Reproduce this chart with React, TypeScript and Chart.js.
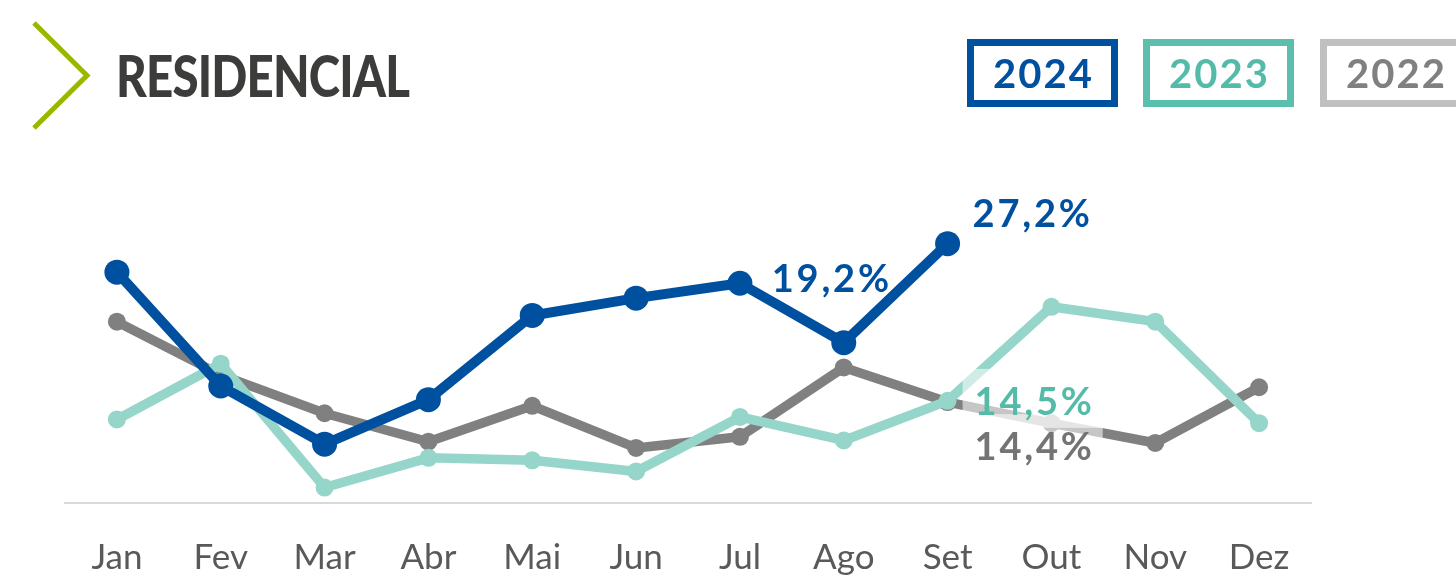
import React, { useEffect, useRef } from "react";
import { Chart, registerables } from "chart.js";

Chart.register(...registerables);

// ---- data ----
const months = ["Jan", "Fev", "Mar", "Abr", "Mai", "Jun", "Jul", "Ago", "Set", "Out", "Nov", "Dez"];
const values2024 = [24.9, 15.7, 11.0, 14.6, 21.4, 22.8, 24.0, 19.2, 27.2, null, null, null];
const values2023 = [13.0, 17.5, 7.5, 9.9, 9.7, 8.8, 13.2, 11.3, 14.5, 22.1, 20.9, 12.7];
const values2022 = [20.9, 16.6, 13.5, 11.2, 14.1, 10.7, 11.6, 17.2, 14.4, 12.7, 11.1, 15.6];
const seriesNames = ["2024", "2023", "2022"];
const yMin = 6.25;
const yMax = 30;

// ---- styles ----
const BLUE = "#0050a0";
const TEAL_LINE = "#96d5c9";
const TEAL_TEXT = "#55bba9";
const TEAL_BORDER = "#5bbfad";
const GRAY_LINE = "#808080";
const GRAY_TEXT = "#747474";
const GRAY_BORDER = "#c0c0c0";

const fmt = (v: number) => v.toFixed(1).replace(".", ",") + "%";

const labelPlugin = {
  id: "valueLabels",
  afterDatasetsDraw(chart: any) {
    const ctx = chart.ctx as CanvasRenderingContext2D;
    const specs = [
      { ds: 0, i: 7, dx: -72, dy: -51, color: BLUE, box: false },
      { ds: 0, i: 8, dx: 25, dy: -17, color: BLUE, box: false },
      { ds: 1, i: 8, dx: 27, dy: 14, color: TEAL_TEXT, box: true },
      { ds: 2, i: 8, dx: 27, dy: 58, color: GRAY_TEXT, box: true },
    ];
    ctx.save();
    ctx.font = "bold 38px Lato";
    (ctx as any).letterSpacing = "2.8px";
    const items = specs.map((s) => {
      const pt = chart.getDatasetMeta(s.ds).data[s.i];
      const v = chart.data.datasets[s.ds].data[s.i] as number;
      const text = fmt(v);
      return { ...s, text, x: pt.x + s.dx, y: pt.y + s.dy, w: ctx.measureText(text).width };
    });
    items
      .filter((it) => it.box)
      .forEach((it) => {
        ctx.fillStyle = "rgba(255,255,255,0.55)";
        ctx.fillRect(it.x - 12, it.y - 46, it.w + 20, 59);
      });
    items.forEach((it) => {
      ctx.fillStyle = it.color;
      ctx.textAlign = "left";
      ctx.textBaseline = "alphabetic";
      ctx.fillText(it.text, it.x, it.y);
    });
    ctx.restore();
  },
};

function LegendBox({ text, border, color, left }: { text: string; border: string; color: string; left: number }) {
  return (
    <div
      style={{
        position: "absolute",
        left,
        top: 39,
        width: 151,
        height: 68,
        boxSizing: "border-box",
        border: `7px solid ${border}`,
        display: "flex",
        alignItems: "center",
        justifyContent: "center",
        fontFamily: "Lato",
        fontWeight: 700,
        fontSize: 40,
        lineHeight: "40px",
        letterSpacing: "2px",
        color,
        paddingLeft: 2,
      }}
    >
      {text}
    </div>
  );
}

export default function App() {
  const canvasRef = useRef<HTMLCanvasElement | null>(null);
  const titleRef = useRef<HTMLSpanElement | null>(null);

  useEffect(() => {
    if (titleRef.current) {
      const w = titleRef.current.offsetWidth;
      if (w > 0) titleRef.current.style.transform = `scaleX(${293 / w})`;
    }
    const canvas = canvasRef.current;
    if (!canvas) return;
    const chart = new Chart(canvas, {
      type: "line",
      data: {
        labels: months,
        datasets: [
          {
            label: seriesNames[0],
            data: values2024,
            borderColor: BLUE,
            backgroundColor: BLUE,
            borderWidth: 10,
            pointRadius: 12.5,
            pointHoverRadius: 12.5,
            pointBorderWidth: 0,
            pointBackgroundColor: BLUE,
            borderJoinStyle: "round",
            borderCapStyle: "round",
            tension: 0,
            clip: false as any,
          },
          {
            label: seriesNames[1],
            data: values2023,
            borderColor: TEAL_LINE,
            backgroundColor: TEAL_LINE,
            borderWidth: 9.5,
            pointRadius: 9,
            pointHoverRadius: 9,
            pointBorderWidth: 0,
            pointBackgroundColor: TEAL_LINE,
            borderJoinStyle: "round",
            borderCapStyle: "round",
            tension: 0,
            clip: false as any,
          },
          {
            label: seriesNames[2],
            data: values2022,
            borderColor: GRAY_LINE,
            backgroundColor: GRAY_LINE,
            borderWidth: 9.5,
            pointRadius: 9,
            pointHoverRadius: 9,
            pointBorderWidth: 0,
            pointBackgroundColor: GRAY_LINE,
            borderJoinStyle: "round",
            borderCapStyle: "round",
            tension: 0,
            clip: false as any,
          },
        ],
      },
      options: {
        responsive: false,
        animation: false,
        devicePixelRatio: 1,
        layout: { padding: { left: 65, right: 145, top: 209, bottom: 0 } },
        plugins: { legend: { display: false }, tooltip: { enabled: false }, title: { display: false } },
        events: [],
        scales: {
          x: {
            type: "category",
            offset: true,
            grid: { display: false, drawTicks: false },
            border: { display: true, color: "#d9d9d9", width: 2 },
            ticks: {
              color: "#595959",
              font: { family: "Lato", size: 35 },
              padding: 34,
              maxRotation: 0,
              autoSkip: false,
            },
            afterFit: (scale: any) => {
              scale.height = 83;
            },
          },
          y: { display: false, min: yMin, max: yMax },
        },
      },
      plugins: [labelPlugin],
    });
    return () => chart.destroy();
  }, []);

  return (
    <div
      style={{
        position: "fixed",
        left: 0,
        top: 0,
        width: 1456,
        height: 586,
        overflow: "hidden",
        background: "#ffffff",
      }}
    >
      <canvas ref={canvasRef} width={1456} height={586} style={{ position: "absolute", left: 0, top: 0, width: 1456, height: 586 }} />
      <svg width={120} height={150} style={{ position: "absolute", left: 0, top: 0 }}>
        <polyline points="34,23 87,75.5 34,128" fill="none" stroke="#9ab700" strokeWidth={5} />
      </svg>
      <div style={{ position: "absolute", left: 116, top: 47, whiteSpace: "nowrap" }}>
        <span
          ref={titleRef}
          style={{
            display: "inline-block",
            fontFamily: "Lato",
            fontWeight: 900,
            fontSize: 57,
            lineHeight: "57px",
            color: "#3c3c3b",
            transformOrigin: "left top",
            letterSpacing: "-1px",
          }}
        >
          RESIDENCIAL
        </span>
      </div>
      <LegendBox text={seriesNames[0]} border={BLUE} color={BLUE} left={967} />
      <LegendBox text={seriesNames[1]} border={TEAL_BORDER} color={TEAL_TEXT} left={1143} />
      <LegendBox text={seriesNames[2]} border={GRAY_BORDER} color="#808080" left={1320} />
    </div>
  );
}
